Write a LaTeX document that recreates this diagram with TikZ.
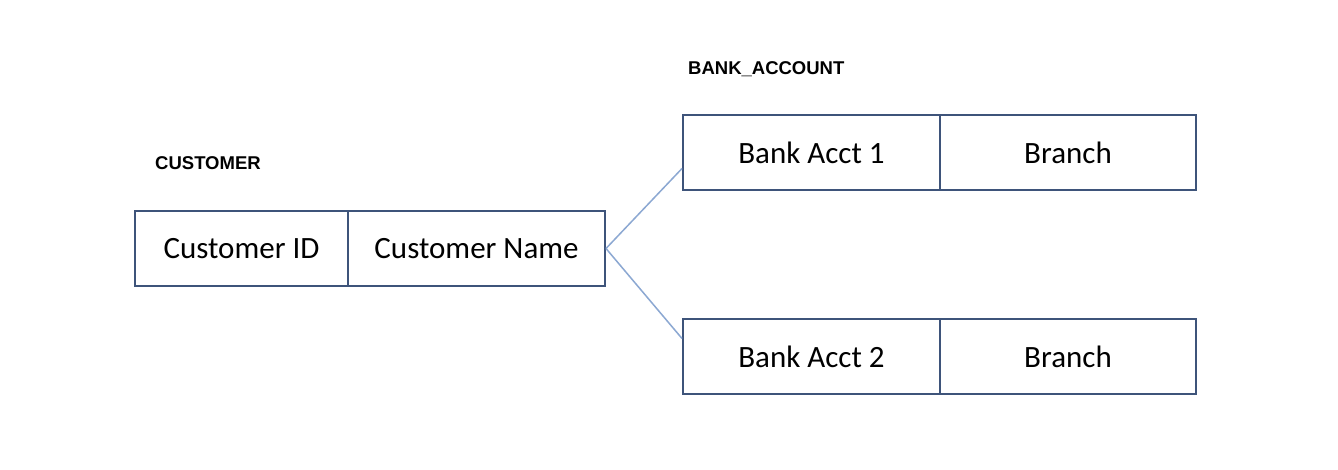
\documentclass[tikz,border=0pt]{standalone}
\usepackage{fontspec}
\setmainfont{Carlito}
\newfontfamily\labelfont{Liberation Sans}
\begin{document}
\begin{tikzpicture}[x=1pt,y=-1pt,
  cell/.style={draw=boxc,line width=2pt,minimum height=75pt,inner sep=0pt,anchor=north west,font=\fontsize{31}{37}\selectfont,text=black},
  tlabel/.style={anchor=west,inner sep=0pt,font=\labelfont\bfseries\fontsize{18.5}{22}\selectfont},
  conn/.style={draw=connc,line width=1.5pt}]
\definecolor{boxc}{RGB}{62,84,122}
\definecolor{connc}{RGB}{140,168,210}
\useasboundingbox[fill=white] (0,0) rectangle (1338,470);
\node[tlabel] (lcust) at (155,163) {CUSTOMER};
\node[tlabel] (lbank) at (688,69) {BANK\_ACCOUNT};
\node[cell,minimum width=213pt] (cid) at (134,210) {Customer ID};
\node[cell,minimum width=257pt] (cname) at (347,210) {Customer Name};
\node[cell,minimum width=257pt] (b1) at (682,114) {Bank Acct 1};
\node[cell,minimum width=256pt] (br1) at (939,114) {Branch};
\node[cell,minimum width=257pt] (b2) at (682,318) {Bank Acct 2};
\node[cell,minimum width=256pt] (br2) at (939,318) {Branch};
\draw[conn] (cname.east) -- ([yshift=-16pt]b1.west);
\draw[conn] (cname.east) -- ([yshift=18pt]b2.west);
\end{tikzpicture}
\end{document}
